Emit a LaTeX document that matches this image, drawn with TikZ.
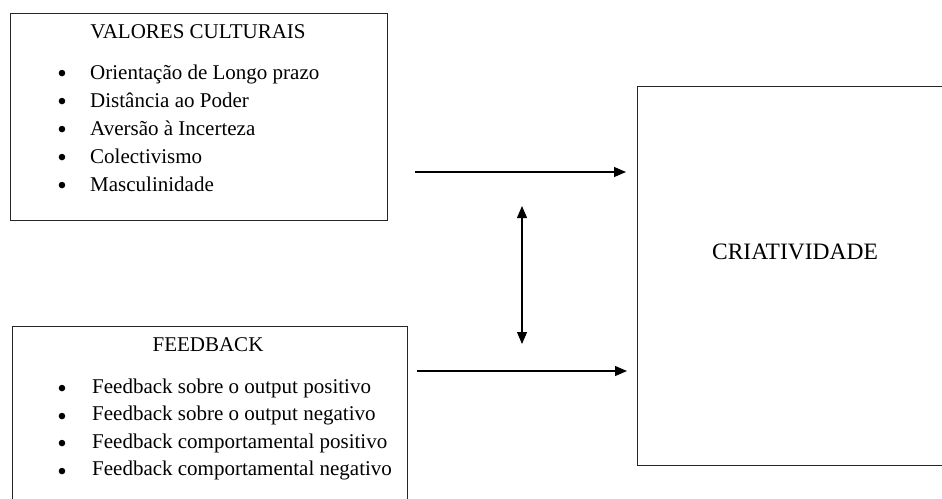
\documentclass[tikz,border=0pt]{standalone}
\usepackage{fontspec}
\setmainfont{Liberation Serif}
\usetikzlibrary{arrows.meta}
\begin{document}
\begin{tikzpicture}[x=1pt,y=-1pt,
  box/.style={draw=black!85, line width=1.2pt, inner sep=0pt, anchor=north west},
  txt/.style={anchor=base west, inner sep=0pt, font=\fontsize{21}{24}\selectfont},
  ttl/.style={anchor=base, inner sep=0pt, font=\fontsize{21}{24}\selectfont},
  bul/.style={inner sep=0pt, font=\fontsize{27}{28}\selectfont},
  arr/.style={line width=1.1pt, -{Triangle[length=12pt,width=10pt]}},
  darr/.style={line width=1.1pt, {Triangle[length=12pt,width=10pt]}-{Triangle[length=12pt,width=10pt]}}]
\useasboundingbox (0,0) rectangle (942,498);
\clip (0,0) rectangle (942,498);
% boxes
\node[box, minimum width=377pt, minimum height=207pt] (vc) at (10,13) {};
\node[box, minimum width=395pt, minimum height=200pt] (fb) at (12,326) {};
\node[box, minimum width=316pt, minimum height=379pt] (cr) at (637,86) {};
% top box text
\node[ttl] (vct) at (198,38) {VALORES CULTURAIS};
\node[bul] (b1) at (62,76.5) {\textbullet};
\node[bul] (b2) at (62,104.5) {\textbullet};
\node[bul] (b3) at (62,132.5) {\textbullet};
\node[bul] (b4) at (62,160.5) {\textbullet};
\node[bul] (b5) at (62,188.5) {\textbullet};
\node[txt] (t1) at (90,79) {Orientação de Longo prazo};
\node[txt] (t2) at (90,107) {Distância ao Poder};
\node[txt] (t3) at (90,135) {Aversão à Incerteza};
\node[txt] (t4) at (90,163) {Colectivismo};
\node[txt] (t5) at (90,191) {Masculinidade};
% bottom box text
\node[ttl] (fbt) at (208,351) {FEEDBACK};
\node[bul] (c1) at (62,391.5) {\textbullet};
\node[bul] (c2) at (62,419) {\textbullet};
\node[bul] (c3) at (62,446.5) {\textbullet};
\node[bul] (c4) at (62,474) {\textbullet};
\node[txt] (u1) at (92,393) {Feedback sobre o output positivo};
\node[txt] (u2) at (92,420.5) {Feedback sobre o output negativo};
\node[txt] (u3) at (92,448) {Feedback comportamental positivo};
\node[txt] (u4) at (92,475.5) {Feedback comportamental negativo};
% right box text
\node[ttl, font=\fontsize{23.5}{26}\selectfont] (crt) at (795,259) {CRIATIVIDADE};
% arrows
\coordinate (a1s) at (415,172);
\coordinate (a1e) at (626,172);
\coordinate (a2s) at (417,371);
\coordinate (a2e) at (627,371);
\coordinate (vs) at (522,206);
\coordinate (ve) at (522,344);
\draw[arr] (a1s) -- (a1e);
\draw[arr] (a2s) -- (a2e);
\draw[darr] (vs) -- (ve);
\end{tikzpicture}
\end{document}
